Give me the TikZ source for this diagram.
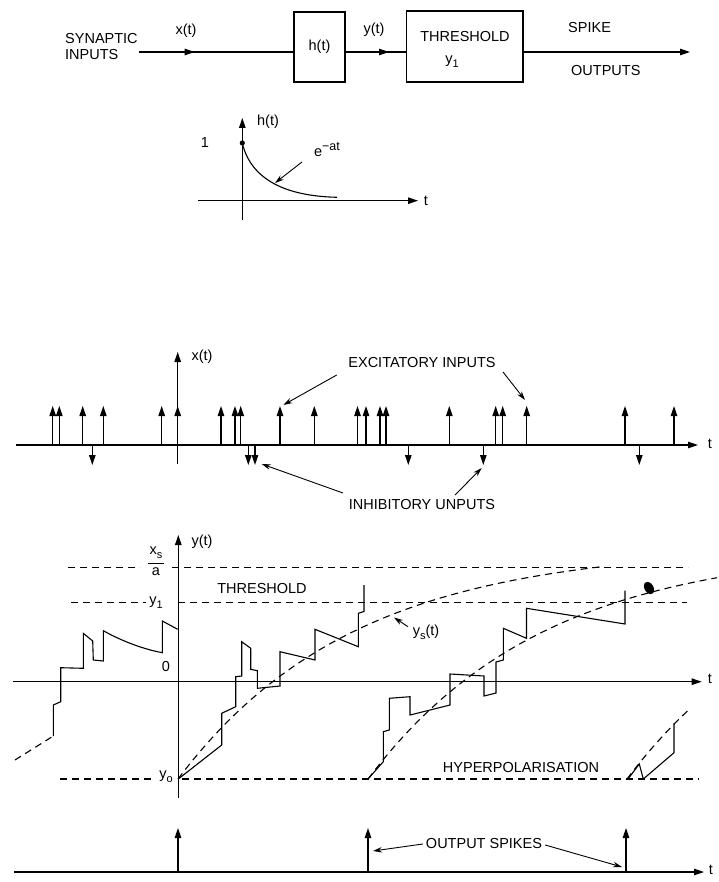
\documentclass[tikz,border=0pt]{standalone}
\usepackage{fontspec}
\setmainfont{Liberation Sans}
\usetikzlibrary{arrows.meta,decorations.markings}
\newcommand\mysub[1]{\raisebox{-4pt}{\fontsize{11}{11}\selectfont #1}}
\newcommand\mysup[1]{\raisebox{6pt}{\fontsize{12.5}{12.5}\selectfont #1}}
\begin{document}
\begin{tikzpicture}[x=1pt,y=-1pt,
  every node/.style={font=\fontsize{14.5}{16}\selectfont, inner sep=0pt},
  ln/.style={line width=1.1pt},
  arr/.style={line width=1.1pt, -{Triangle[length=10pt,width=6.5pt]}},
  ptr/.style={line width=0.9pt, -{Stealth[length=9pt,width=5.5pt]}},
  midarrow/.style={postaction={decorate}, decoration={markings, mark=at position #1 with {\arrow{Triangle[length=10pt,width=6.5pt]}}}},
  dsh/.style={line width=1.1pt, dash pattern=on 7pt off 5pt},
  blk/.style={draw, line width=1.1pt, inner sep=0pt}
]
\useasboundingbox (0,0) rectangle (718,882);

% ---------- block diagram ----------
\node[anchor=west] (syn) at (65,39) {SYNAPTIC};
\node[anchor=west] (inp) at (65,55) {INPUTS};
\node[blk, minimum width=51pt, minimum height=70pt] (h) at (319.5,47) {h(t)};
\node[blk, minimum width=116.5pt, minimum height=71pt] (thr) at (464.75,46.5) {};
\node (thrtext) at (465,37) {THRESHOLD};
\node (thry) at (452,62) {y\mysub{1}};
\coordinate (in) at (139,52);
\coordinate (out) at (690,52);
\draw[ln, midarrow=0.36] (in) -- (in -| h.west);
\draw[ln, midarrow=0.72] (in -| h.east) -- (in -| thr.west);
\draw[arr] (in -| thr.east) -- (out);
\node (xt) at (186,31) {x(t)};
\node (yt) at (374,30) {y(t)};
\node[anchor=west] (spk) at (568,28) {SPIKE};
\node[anchor=west] (outs) at (571,71) {OUTPUTS};

% ---------- h(t) ----------
\coordinate (hb) at (242.3,220);
\coordinate (htop) at (242.3,118);
\coordinate (hl) at (198,200.7);
\coordinate (hr) at (418,200.7);
\draw[arr] (hb) -- (htop);
\draw[arr] (hl) -- (hr);
\node (hlab) at (268,122) {h(t)};
\node (hone) at (205,143) {1};
\node (htl) at (426,201) {t};
\coordinate (hpk) at (242.3,143);
\fill (hpk) circle (2.6pt);
\draw[ln] (hpk) .. controls (250,176) and (280,196) .. (337,197.3);
\node (eat) at (327,150) {e\mysup{−at}};
\coordinate (eatt) at (275,183);
\draw[ptr] (302,162) -- (eatt);

% ---------- x(t) ----------
\coordinate (xa) at (16,445);
\coordinate (xb) at (698,445);
\draw[arr] (xa) -- (xb);
\node (xtl) at (710,444) {t};
\draw[arr] (177.7,464) -- (177.7,352);
\node (xlab) at (202,357) {x(t)};
\foreach \p in {52.7,59.3,82.7,103.3,161.7,177.7,221,235,240.7,280,314.3,357.5,366,380,386,449.3,495.7,502.7,526.7,625,674}
  \draw[arr] (\p,445) -- (\p,406);
\foreach \p in {92.3,248.3,255,408.3,483.3,639.3}
  \draw[arr] (\p,445) -- (\p,465);
\node (exc) at (422,363) {EXCITATORY INPUTS};
\node (inh) at (422,505) {INHIBITORY UNPUTS};
\coordinate (e1) at (283.3,405);
\coordinate (e2) at (525,400);
\coordinate (i1) at (261.7,464);
\coordinate (i2) at (481.7,468);
\draw[ptr] (336.7,375) -- (e1);
\draw[ptr] (503,372) -- (e2);
\draw[ptr] (343,493) -- (i1);
\draw[ptr] (455,495) -- (i2);

% ---------- y(t) ----------
\draw[arr] (178.3,798) -- (178.3,535);
\node (ylab) at (202,542) {y(t)};
\draw[arr] (13,681.7) -- (701.7,681.7);
\node (ytl) at (710,679) {t};
\node (zero) at (166,667) {0};
% x_s / a
\node (xs) at (156,553) {x\mysub{s}};
\node (aa) at (156,572) {a};
\draw[line width=1pt] (148,563) -- (164,563);
\draw[dsh] (68,567.7) -- (140,567.7);
\draw[dsh] (172,567.7) -- (688,567.7);
\node (thl) at (262,589) {THRESHOLD};
% y1
\node (yone) at (156,603) {y\mysub{1}};
\draw[dsh] (71,602.7) -- (146,602.7);
\draw[dsh] (178,602.7) -- (687,602.7);
% y0
\node (yo) at (166,777) {y\mysub{o}};
\draw[dsh] (60,779) -- (153,779);
\draw[dsh] (182,779) -- (699,779);
\node (hyp) at (521,767) {HYPERPOLARISATION};
\node (ys) at (426,632) {y\mysub{s}(t)};
\coordinate (yst) at (394,617.5);
\draw[ptr] (408,626.7) -- (yst);
% y_s curves
\draw[dsh] plot[domain=0:422,samples=60] ({178+\x},{779-233*(1-exp(-\x/175))});
\draw[dsh] plot[domain=0:349,samples=60] ({368+\x},{779-233*(1-exp(-\x/175))});
\draw[dsh] plot[domain=0:63,samples=20] ({627+\x},{779-233*(1-exp(-\x/175))});
\draw[dsh] (15,760) -- (53.3,736);
% waveform
\draw[ln, line join=miter] (53.3,736) -- (53.3,705) -- (60.7,701.7) -- (60.7,667.7) -- (83.3,668.3) -- (83.3,633.3) -- (92.7,641) -- (93.3,660) -- (103.3,661) -- (103.3,630.7) .. controls (118,639) and (140,648.5) .. (162.3,652.7) -- (162.3,621) -- (177.7,629.3);
\draw[ln, line join=miter] (178.3,779) -- (221.7,745) -- (221.7,713.3) -- (235.7,706.7) -- (235.7,676.7) -- (241.7,676) -- (241.7,641.7) -- (250.7,648.3) -- (250.7,669.3) -- (257.3,670.7) -- (257.3,688.3) -- (280,686) -- (280,651.7) -- (315,660) -- (315,629.3) -- (358.3,646.7) -- (358.3,613.3) -- (364,611.5) -- (364,585);
\draw[ln, line join=miter] (368,779) -- (383.3,761.7) -- (383.3,731.7) -- (389.3,730) -- (389.3,698.3) -- (410,696.7) -- (410,715) -- (450,705) -- (450,674) -- (484,676) -- (484,696) -- (496,693) -- (496,662) -- (503.3,660) -- (503.3,628.3) -- (526.5,638.3) -- (526.5,608.3) -- (625,624) -- (625,590.7);
\draw[ln, line join=miter] (628,779) -- (639.3,764) -- (643.3,779) -- (674,752.7) -- (674,723.3);
\fill[rotate around={30:(649,588)}] (649,588) ellipse [x radius=4.5pt, y radius=6.5pt];

% ---------- output spikes ----------
\coordinate (oa) at (14,872);
\coordinate (ob) at (704,872);
\draw[arr] (oa) -- (ob);
\node (otl) at (711,870) {t};
\foreach \p in {178,368,626}
  \draw[arr] (\p,872) -- (\p,828);
\node (ops) at (484,843) {OUTPUT SPIKES};
\coordinate (o1) at (373,851);
\coordinate (o2) at (622,867);
\draw[ptr] (ops.west) ++(-3,1) -- (o1);
\draw[ptr] (ops.east) ++(3,2) -- (o2);
\end{tikzpicture}
\end{document}
